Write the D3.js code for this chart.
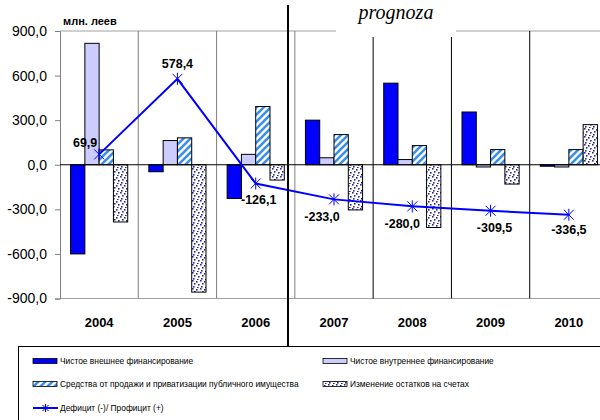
<!DOCTYPE html>
<html lang="ru">
<head>
<meta charset="UTF-8">
<title>Финансирование дефицита</title>
<script src="https://d3js.org/d3.v7.min.js"></script>
<style>
  body { margin: 0; background: #fff; }
  svg { font-family: "Liberation Sans", Arial, sans-serif; }
</style>
</head>
<body>
<div id="chart"></div>
<script>
// данные (млн. леев)
const years = ["2004", "2005", "2006", "2007", "2008", "2009", "2010"];
const externalFin = [-600, -47, -227, 300, 549, 355, -10];
const internalFin = [817, 163, 70, 47, 35, -15, -15];
const privatization = [100, 181, 392, 203, 129, 102, 102];
const accountChange = [-385, -857, -103, -304, -422, -130, 270];
const balance = [69.9, 578.4, -126.1, -233.0, -280.0, -309.5, -336.5];
const yTicks = [900, 600, 300, 0, -300, -600, -900];

const seriesNames = [
  "Чистое внешнее финансирование",
  "Чистое внутреннее финансирование",
  "Средства от продажи и приватизации публичного имущества",
  "Изменение остатков на счетах",
  "Дефицит (-)/ Профицит (+)"
];

// смещения подписей линии
const labelDx = [-14, 0, 3, -12, -10, 4, 0];
const labelDy = [-7, -11, 21, 22, 22, 21, 19];

const W = 600, H = 420;
const svg = d3.select("#chart").append("svg").attr("width", W).attr("height", H);

const defs = svg.append("defs");
const hatch = defs.append("pattern").attr("id", "hatch")
  .attr("patternUnits", "userSpaceOnUse").attr("width", 7).attr("height", 7);
hatch.append("rect").attr("width", 7).attr("height", 7).attr("fill", "#fff");
hatch.append("path").attr("d", "M-2,2 l4,-4 M0,7 l7,-7 M5,9 l4,-4")
  .attr("stroke", "#3a8fe6").attr("stroke-width", 2.6);

const dots = defs.append("pattern").attr("id", "dots")
  .attr("patternUnits", "userSpaceOnUse").attr("width", 8).attr("height", 8);
dots.append("rect").attr("width", 8).attr("height", 8).attr("fill", "#fff");
[[0, 0], [4, 1], [2, 3], [6, 4], [1, 6], [5, 7]].forEach(p => {
  dots.append("rect").attr("x", p[0]).attr("y", p[1]).attr("width", 1.6).attr("height", 1.6).attr("fill", "#2a2a99");
});

const fills = ["#0000ff", "#ccccff", "url(#hatch)", "url(#dots)"];
const barSeries = [externalFin, internalFin, privatization, accountChange];

const x = d3.scaleBand().domain(years).range([60, 608]).padding(0);
const xs = d3.scaleBand().domain(d3.range(4)).range([0, x.bandwidth()]).paddingInner(0).paddingOuter(0.74);
const y = d3.scaleLinear().domain([-900, 900]).range([298.5, 31]);

// рамка и сетка
svg.append("line").attr("x1", 60).attr("x2", 608).attr("y1", y(900)).attr("y2", y(900))
  .attr("stroke", "#a0a0a0");
svg.append("line").attr("x1", 60).attr("x2", 608).attr("y1", y(-900)).attr("y2", y(-900))
  .attr("stroke", "#a0a0a0");
years.slice(1).forEach((yr, i) => {
  svg.append("line").attr("x1", x(yr)).attr("x2", x(yr))
    .attr("y1", y(900)).attr("y2", y(-900))
    .attr("stroke", i < 3 ? "#808080" : "#000");
});

// ось Y
const yAxis = svg.append("g").attr("transform", "translate(60,0)")
  .call(d3.axisLeft(y).tickValues(yTicks).tickSize(5).tickPadding(8)
    .tickFormat(d => d3.format(".1f")(d).replace(".", ",").replace("−", "-")));
yAxis.select(".domain").attr("stroke", "#808080");
yAxis.selectAll(".tick line").attr("stroke", "#808080");
yAxis.selectAll("text").attr("font-size", 14).attr("fill", "#000");

svg.append("text").attr("x", 63).attr("y", 25).attr("font-size", 11)
  .attr("font-weight", "bold").text("млн. леев");

// столбцы
barSeries.forEach((vals, s) => {
  svg.append("g").selectAll("rect").data(vals).join("rect")
    .attr("x", (d, i) => x(years[i]) + xs(s))
    .attr("width", xs.bandwidth())
    .attr("y", d => y(Math.max(0, d)))
    .attr("height", d => Math.abs(y(d) - y(0)))
    .attr("fill", fills[s])
    .attr("stroke", "#000").attr("stroke-width", 1);
});

// нулевая линия
svg.append("line").attr("x1", 60).attr("x2", 608).attr("y1", y(0)).attr("y2", y(0))
  .attr("stroke", "#000");

// линия дефицита
const cx = (d, i) => x(years[i]) + x.bandwidth() / 2;
svg.append("path").datum(balance)
  .attr("d", d3.line().x(cx).y(d => y(d)))
  .attr("fill", "none").attr("stroke", "#0000ff").attr("stroke-width", 2);

function star(g, px, py, r) {
  g.append("path")
    .attr("d", `M${px - r},${py - r}L${px + r},${py + r}M${px - r},${py + r}L${px + r},${py - r}M${px},${py - r - 1}L${px},${py + r + 1}`)
    .attr("stroke", "#0000ff").attr("stroke-width", 1).attr("fill", "none");
}
const mk = svg.append("g");
balance.forEach((d, i) => star(mk, cx(d, i), y(d), 5));

svg.append("g").selectAll("text").data(balance).join("text")
  .attr("x", (d, i) => cx(d, i) + labelDx[i])
  .attr("y", (d, i) => y(d) + labelDy[i])
  .attr("text-anchor", "middle").attr("font-size", 12.5).attr("font-weight", "bold")
  .text(d => d3.format(".1f")(d).replace(".", ",").replace("−", "-"));

// подписи X
svg.append("g").selectAll("text").data(years).join("text")
  .attr("x", d => x(d) + x.bandwidth() / 2).attr("y", 327)
  .attr("text-anchor", "middle").attr("font-size", 13).attr("font-weight", "bold")
  .text(d => d);

// прогноз
svg.append("rect").attr("x", 336).attr("y", 0).attr("width", 120).attr("height", 37).attr("fill", "#fff");
svg.append("text").attr("x", 396).attr("y", 19).attr("text-anchor", "middle")
  .attr("font-family", "'Liberation Serif', 'Times New Roman', serif")
  .attr("font-style", "italic").attr("font-size", 20).text("prognoza");
svg.append("line").attr("x1", 288).attr("x2", 288).attr("y1", 5).attr("y2", 346)
  .attr("stroke", "#000").attr("stroke-width", 2);

// легенда
const lg = svg.append("g");
lg.append("rect").attr("x", 18.5).attr("y", 346.5).attr("width", 600).attr("height", 100)
  .attr("fill", "#fff").attr("stroke", "#000");
const legPos = [[33, 361], [323, 361], [33, 384], [323, 384], [33, 408]];
seriesNames.forEach((name, i) => {
  const [lx, ly] = legPos[i];
  if (i < 4) {
    lg.append("rect").attr("x", lx).attr("y", ly - 2.5).attr("width", 24).attr("height", 5)
      .attr("fill", fills[i]).attr("stroke", "#000").attr("stroke-width", 0.8);
  } else {
    lg.append("line").attr("x1", lx).attr("x2", lx + 25).attr("y1", ly).attr("y2", ly)
      .attr("stroke", "#0000ff").attr("stroke-width", 2);
    star(lg, lx + 12.5, ly, 3);
  }
  lg.append("text").attr("x", lx + 27).attr("y", ly + 3).attr("font-size", 8.4)
    .text(name);
});
</script>
</body>
</html>
